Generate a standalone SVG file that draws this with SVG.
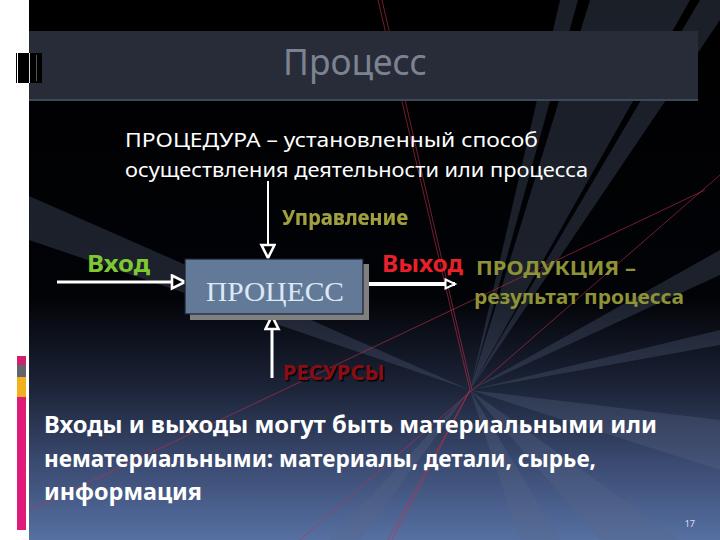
<svg xmlns="http://www.w3.org/2000/svg" width="720" height="540" viewBox="0 0 720 540">
<defs>
<linearGradient id="bg" x1="0" y1="0" x2="0" y2="1">
<stop offset="0" stop-color="#000000"/>
<stop offset="0.55" stop-color="#020307"/>
<stop offset="0.72" stop-color="#1c2438"/>
<stop offset="0.86" stop-color="#3b4b72"/>
<stop offset="1" stop-color="#5670a2"/>
</linearGradient>
<marker id="ah" markerUnits="userSpaceOnUse" markerWidth="18" markerHeight="18" refX="15" refY="8" orient="auto">
<path d="M2,1.5 L15,8 L2,14.5 Z" fill="#000" stroke="#fff" stroke-width="2.6"/>
</marker>
<marker id="ahs" markerUnits="userSpaceOnUse" markerWidth="14" markerHeight="14" refX="11" refY="6" orient="auto">
<path d="M1.5,1.5 L11,6 L1.5,10.5 Z" fill="#000" stroke="#fff" stroke-width="2"/>
</marker>
<filter id="sh" x="-10%" y="-30%" width="120%" height="160%">
<feDropShadow dx="1.5" dy="1.5" stdDeviation="0.6" flood-color="#000" flood-opacity="0.9"/>
</filter>
</defs>
<style>
.t{font-family:"Noto Sans","Open Sans","DejaVu Sans",sans-serif}
.b{font-weight:bold}
.lbl{font-family:"Noto Sans","Open Sans",sans-serif;font-weight:bold}
.ray{fill:#5a6883;opacity:0.3}
.red{stroke:#c0304a;stroke-width:0.8;fill:none;opacity:0.75}
.wire{stroke:#fff;fill:none}
</style>
<rect x="0" y="0" width="720" height="540" fill="#fff"/>
<rect x="29" y="0" width="691" height="540" fill="url(#bg)"/>
<g id="rays">
<polygon class="ray" points="560,0 578,0 470,390"/>
<polygon class="ray" points="590,0 690,0 470,390"/>
<polygon class="ray" points="700,0 720,0 720,20 470,390"/>
<polygon class="ray" points="29,196 29,240 470,390"/>
<polygon class="ray" points="720,420 720,470 470,390"/>
<polygon class="ray" points="470,390 720,250 720,275"/>
<polygon class="ray" points="470,390 520,540 560,540"/>
<polygon class="ray" points="470,390 600,540 680,540"/>
<polygon class="ray" points="470,390 330,540 360,540"/>
<polygon class="ray" points="470,390 720,330 720,345"/>
<line class="red" x1="378" y1="0" x2="470" y2="390"/>
<line class="red" x1="382" y1="0" x2="472" y2="390"/>
<line class="red" x1="720" y1="175" x2="300" y2="540"/>
<line class="red" x1="705" y1="190" x2="30" y2="510"/>
<line class="red" x1="470" y1="390" x2="388" y2="540"/>
<line class="red" x1="470" y1="390" x2="392" y2="540"/>
</g>
<g id="title">
<rect x="29" y="31" width="669" height="70" fill="#282c38"/>
<rect x="29" y="99" width="669" height="2" fill="#3a4a58"/>
<text class="t" x="355" y="75" font-size="36" fill="#7b8393" text-anchor="middle" textLength="144" lengthAdjust="spacingAndGlyphs">Процесс</text>
</g>
<g id="deco">
<rect x="16" y="53" width="26" height="30" fill="#000"/>
<line x1="17.5" y1="53" x2="17.5" y2="83" stroke="#fff" stroke-width="1"/>
<line x1="29.5" y1="53" x2="29.5" y2="83" stroke="#ddd" stroke-width="1"/>
<line x1="36.5" y1="55" x2="36.5" y2="81" stroke="#555" stroke-width="1"/>
<rect x="17" y="356" width="9" height="9" fill="#d0206e"/>
<rect x="17" y="365" width="9" height="12" fill="#606570"/>
<rect x="17" y="377" width="9" height="20" fill="#f0b020"/>
<rect x="17" y="397" width="9" height="133" fill="#e01a78"/>
</g>
<g id="definition">
<text class="t" x="125" y="147" font-size="19" fill="#fff" textLength="413" lengthAdjust="spacingAndGlyphs">ПРОЦЕДУРА – установленный способ</text>
<text class="t" x="125" y="177" font-size="19" fill="#fff" textLength="463" lengthAdjust="spacingAndGlyphs">осуществления деятельности или процесса</text>
</g>
<g id="connectors">
<line class="wire" x1="57" y1="282" x2="185" y2="282" stroke-width="3" marker-end="url(#ah)"/>
<line class="wire" x1="268" y1="181" x2="268" y2="258" stroke-width="2" marker-end="url(#ah)"/>
<line class="wire" x1="272" y1="378" x2="272" y2="316" stroke-width="3" marker-end="url(#ah)"/>
<line class="wire" x1="367" y1="284" x2="455" y2="284" stroke-width="4" marker-end="url(#ahs)"/>
</g>
<g id="process">
<rect x="190" y="264" width="179" height="56" fill="#808080"/>
<rect x="185" y="259" width="178" height="55" fill="#627a98" stroke="#1a2030" stroke-width="1.2"/>
<text x="275" y="301" font-family="Liberation Serif,serif" font-size="27" fill="#dde8f5" text-anchor="middle" textLength="138" lengthAdjust="spacingAndGlyphs">ПРОЦЕСС</text>
</g>
<g id="control">
<text class="lbl" x="282" y="225" font-size="21" fill="#a0a040" filter="url(#sh)" textLength="126" lengthAdjust="spacingAndGlyphs">Управление</text>
</g>
<g id="input">
<text class="lbl" x="87" y="272" font-size="23" fill="#7ec832" textLength="63" lengthAdjust="spacingAndGlyphs">Вход</text>
</g>
<g id="output">
<text class="lbl" x="382" y="272" font-size="24" fill="#e8202a" textLength="81" lengthAdjust="spacingAndGlyphs">Выход</text>
<text class="lbl" x="476" y="275" font-size="20" fill="#8e9335" textLength="160" lengthAdjust="spacingAndGlyphs">ПРОДУКЦИЯ –</text>
<text class="lbl" x="474" y="304" font-size="20" fill="#8e9335" textLength="210" lengthAdjust="spacingAndGlyphs">результат процесса</text>
</g>
<g id="resources">
<text class="lbl" x="283" y="380" font-size="22" fill="#8a0f14" filter="url(#sh)" textLength="102" lengthAdjust="spacingAndGlyphs">РЕСУРСЫ</text>
</g>
<g id="body">
<text class="t b" x="44" y="433" font-size="23" fill="#fff" textLength="613" lengthAdjust="spacingAndGlyphs">Входы и выходы могут быть материальными или</text>
<text class="t b" x="44" y="467" font-size="23" fill="#fff" textLength="552" lengthAdjust="spacingAndGlyphs">нематериальными: материалы, детали, сырье,</text>
<text class="t b" x="44" y="500" font-size="23" fill="#fff" textLength="158" lengthAdjust="spacingAndGlyphs">информация</text>
<text class="t" x="695" y="527" font-size="9" fill="#dde" text-anchor="end">17</text>
</g>
</svg>
